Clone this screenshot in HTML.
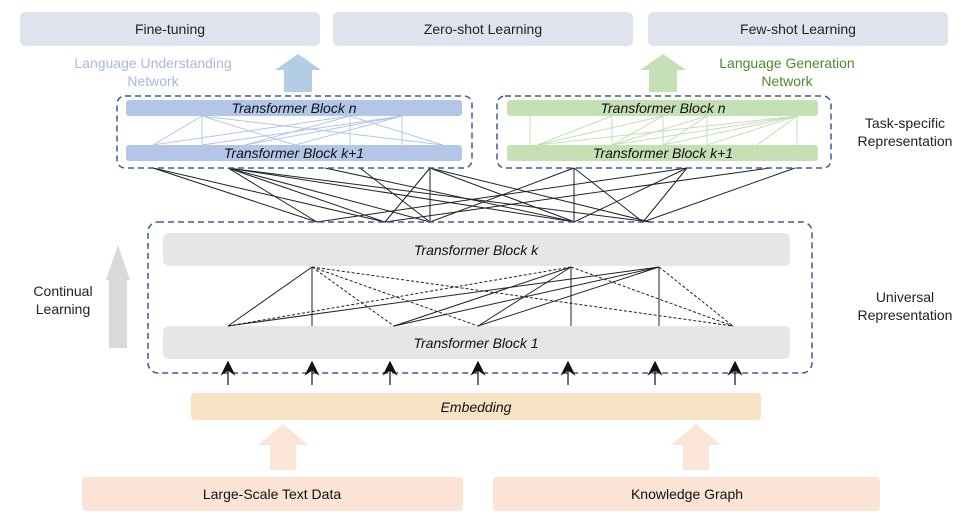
<!DOCTYPE html>
<html><head><meta charset="utf-8"><style>
body{margin:0;background:#fff;width:967px;height:525px;overflow:hidden}
svg{display:block}
text{font-family:"Liberation Sans","DejaVu Sans",sans-serif}
</style></head><body>
<svg width="967" height="525" viewBox="0 0 967 525" xmlns="http://www.w3.org/2000/svg">
<defs>
<marker id="ah" markerWidth="8" markerHeight="10" refX="4" refY="1" orient="auto-start-reverse" markerUnits="userSpaceOnUse">
</marker>
</defs>
<!-- top boxes -->
<rect x="20" y="12" width="300" height="34" rx="5" fill="#dfe3ed"/>
<rect x="333" y="12" width="300" height="34" rx="5" fill="#dfe3ed"/>
<rect x="648" y="12" width="300" height="34" rx="5" fill="#dfe3ed"/>
<text x="170" y="34" font-size="14" text-anchor="middle" fill="#222">Fine-tuning</text>
<text x="483" y="34" font-size="14" text-anchor="middle" fill="#222">Zero-shot Learning</text>
<text x="798" y="34" font-size="14" text-anchor="middle" fill="#222">Few-shot Learning</text>
<!-- side labels -->
<text x="153" y="68" font-size="14" text-anchor="middle" fill="#a9b8e0">Language Understanding</text>
<text x="153" y="86" font-size="14" text-anchor="middle" fill="#a9b8e0">Network</text>
<text x="787" y="68" font-size="14" text-anchor="middle" fill="#4f8a2c">Language Generation</text>
<text x="787" y="86" font-size="14" text-anchor="middle" fill="#4f8a2c">Network</text>
<!-- up arrows top -->
<polygon points="275,70 298,54 321,70 312,70 312,92 284,92 284,70" fill="#b3cde4"/>
<polygon points="640,70 663,54 686,70 677,70 677,92 649,92 649,70" fill="#c5e0b4"/>
<!-- Task specific label -->
<text x="905" y="128" font-size="14" text-anchor="middle" fill="#222">Task-specific</text>
<text x="905" y="146" font-size="14" text-anchor="middle" fill="#222">Representation</text>
<text x="905" y="302" font-size="14" text-anchor="middle" fill="#222">Universal</text>
<text x="905" y="320" font-size="14" text-anchor="middle" fill="#222">Representation</text>
<text x="63" y="296" font-size="14" text-anchor="middle" fill="#222">Continual</text>
<text x="63" y="314" font-size="14" text-anchor="middle" fill="#222">Learning</text>
<!-- grey arrow -->
<polygon points="106,280 118,245 130,280 127,280 127,348 109,348 109,280" fill="#d9d9d9"/>
<!-- connecting lines between task & universal -->
<g stroke="#222" stroke-width="1" fill="none">
<line x1="153" y1="168" x2="317" y2="222"/>
<line x1="153" y1="168" x2="385" y2="222"/>
<line x1="228" y1="168" x2="385" y2="222"/>
<line x1="228" y1="168" x2="317" y2="222"/>
<line x1="228" y1="168" x2="430" y2="222"/>
<line x1="228" y1="168" x2="575" y2="222"/>
<line x1="228" y1="168" x2="650" y2="222"/>
<line x1="325" y1="168" x2="575" y2="222"/>
<line x1="360" y1="168" x2="430" y2="222"/>
<line x1="430" y1="168" x2="385" y2="222"/>
<line x1="430" y1="168" x2="430" y2="222"/>
<line x1="430" y1="168" x2="575" y2="222"/>
<line x1="430" y1="168" x2="650" y2="222"/>
<line x1="574" y1="168" x2="430" y2="222"/>
<line x1="574" y1="168" x2="574" y2="222"/>
<line x1="574" y1="168" x2="643" y2="222"/>
<line x1="687" y1="168" x2="317" y2="222"/>
<line x1="687" y1="168" x2="574" y2="222"/>
<line x1="687" y1="168" x2="643" y2="222"/>
<line x1="770" y1="168" x2="385" y2="222"/>
<line x1="795" y1="168" x2="643" y2="222"/>
</g>
<!-- left dashed box -->
<rect x="117" y="96" width="355" height="72" rx="8" fill="none" stroke="#3d5a96" stroke-width="1.5" stroke-dasharray="6,4"/>
<rect x="126" y="100" width="336" height="16" rx="3" fill="#b4c6e7"/>
<rect x="126" y="145" width="336" height="16" rx="3" fill="#b4c6e7"/>
<g stroke="#b4c6e7" stroke-width="1">
<line x1="202" y1="116" x2="153" y2="145"/><line x1="202" y1="116" x2="202" y2="145"/><line x1="202" y1="116" x2="295" y2="145"/><line x1="202" y1="116" x2="443" y2="145"/>
<line x1="350" y1="116" x2="153" y2="145"/><line x1="350" y1="116" x2="245" y2="145"/><line x1="350" y1="116" x2="350" y2="145"/><line x1="350" y1="116" x2="443" y2="145"/>
<line x1="402" y1="116" x2="202" y2="145"/><line x1="402" y1="116" x2="295" y2="145"/><line x1="402" y1="116" x2="402" y2="145"/><line x1="402" y1="116" x2="245" y2="145"/>
</g>
<text x="294" y="113" font-size="14" font-style="italic" text-anchor="middle" fill="#111">Transformer Block n</text>
<text x="294" y="158" font-size="14" font-style="italic" text-anchor="middle" fill="#111">Transformer Block k+1</text>
<!-- right dashed box -->
<rect x="497" y="96" width="334" height="72" rx="8" fill="none" stroke="#3d5a96" stroke-width="1.5" stroke-dasharray="6,4"/>
<rect x="507" y="100" width="311" height="16" rx="3" fill="#c5e0b4"/>
<rect x="507" y="145" width="311" height="16" rx="3" fill="#c5e0b4"/>
<g stroke="#c5e0b4" stroke-width="1">
<line x1="530" y1="116" x2="530" y2="145"/><line x1="612" y1="116" x2="612" y2="145"/><line x1="663" y1="116" x2="663" y2="145"/><line x1="707" y1="116" x2="707" y2="145"/><line x1="797" y1="116" x2="797" y2="145"/>
<line x1="612" y1="116" x2="537" y2="145"/><line x1="663" y1="116" x2="537" y2="145"/><line x1="663" y1="116" x2="612" y2="145"/><line x1="707" y1="116" x2="612" y2="145"/><line x1="707" y1="116" x2="663" y2="145"/>
<line x1="797" y1="116" x2="537" y2="145"/><line x1="797" y1="116" x2="612" y2="145"/><line x1="797" y1="116" x2="663" y2="145"/><line x1="797" y1="116" x2="707" y2="145"/><line x1="797" y1="116" x2="757" y2="145"/>
</g>
<text x="663" y="113" font-size="14" font-style="italic" text-anchor="middle" fill="#111">Transformer Block n</text>
<text x="663" y="158" font-size="14" font-style="italic" text-anchor="middle" fill="#111">Transformer Block k+1</text>
<!-- universal box -->
<rect x="148" y="222" width="664" height="151" rx="10" fill="none" stroke="#3d5a96" stroke-width="1.5" stroke-dasharray="6,4"/>
<rect x="163" y="233" width="627" height="33" rx="6" fill="#e7e6e6"/>
<rect x="163" y="326" width="627" height="33" rx="6" fill="#e7e6e6"/>
<text x="476" y="255" font-size="14" font-style="italic" text-anchor="middle" fill="#111">Transformer Block k</text>
<text x="476" y="348" font-size="14" font-style="italic" text-anchor="middle" fill="#111">Transformer Block 1</text>
<g stroke="#222" stroke-width="1">
<line x1="312" y1="267" x2="228" y2="326"/><line x1="312" y1="267" x2="312" y2="326"/>
<line x1="571" y1="267" x2="394" y2="326"/><line x1="571" y1="267" x2="478" y2="326"/><line x1="571" y1="267" x2="571" y2="326"/>
<line x1="659" y1="267" x2="228" y2="326"/><line x1="659" y1="267" x2="394" y2="326"/><line x1="659" y1="267" x2="478" y2="326"/><line x1="659" y1="267" x2="659" y2="326"/>
</g>
<g stroke="#222" stroke-width="1" stroke-dasharray="3,2">
<line x1="312" y1="267" x2="394" y2="326"/><line x1="312" y1="267" x2="478" y2="326"/><line x1="312" y1="267" x2="733" y2="326"/>
<line x1="571" y1="267" x2="228" y2="326"/><line x1="571" y1="267" x2="733" y2="326"/>
<line x1="659" y1="267" x2="733" y2="326"/>
</g>
<!-- arrows into block 1 -->
<g stroke="#111" stroke-width="1.2" fill="#111">
<line x1="228" y1="385" x2="228" y2="366"/><polygon points="222,374 228,362 234,374 228,370"/>
<line x1="312" y1="385" x2="312" y2="366"/><polygon points="306,374 312,362 318,374 312,370"/>
<line x1="390" y1="385" x2="390" y2="366"/><polygon points="384,374 390,362 396,374 390,370"/>
<line x1="478" y1="385" x2="478" y2="366"/><polygon points="472,374 478,362 484,374 478,370"/>
<line x1="568" y1="385" x2="568" y2="366"/><polygon points="562,374 568,362 574,374 568,370"/>
<line x1="655" y1="385" x2="655" y2="366"/><polygon points="649,374 655,362 661,374 655,370"/>
<line x1="735" y1="385" x2="735" y2="366"/><polygon points="729,374 735,362 741,374 735,370"/>
</g>
<!-- embedding -->
<rect x="191" y="393" width="570" height="27" rx="4" fill="#f8e3c4"/>
<text x="476" y="412" font-size="14" font-style="italic" text-anchor="middle" fill="#111">Embedding</text>
<polygon points="258,445 283,424 308,445 296,445 296,470 270,470 270,445" fill="#fbe5d6"/>
<polygon points="671,445 696,424 721,445 709,445 709,470 683,470 683,445" fill="#fbe5d6"/>
<rect x="82" y="477" width="381" height="34" rx="4" fill="#fbe4d6"/>
<rect x="493" y="477" width="387" height="34" rx="4" fill="#fbe4d6"/>
<text x="272" y="499" font-size="14" text-anchor="middle" fill="#111">Large-Scale Text Data</text>
<text x="687" y="499" font-size="14" text-anchor="middle" fill="#111">Knowledge Graph</text>
</svg>
</body></html>
